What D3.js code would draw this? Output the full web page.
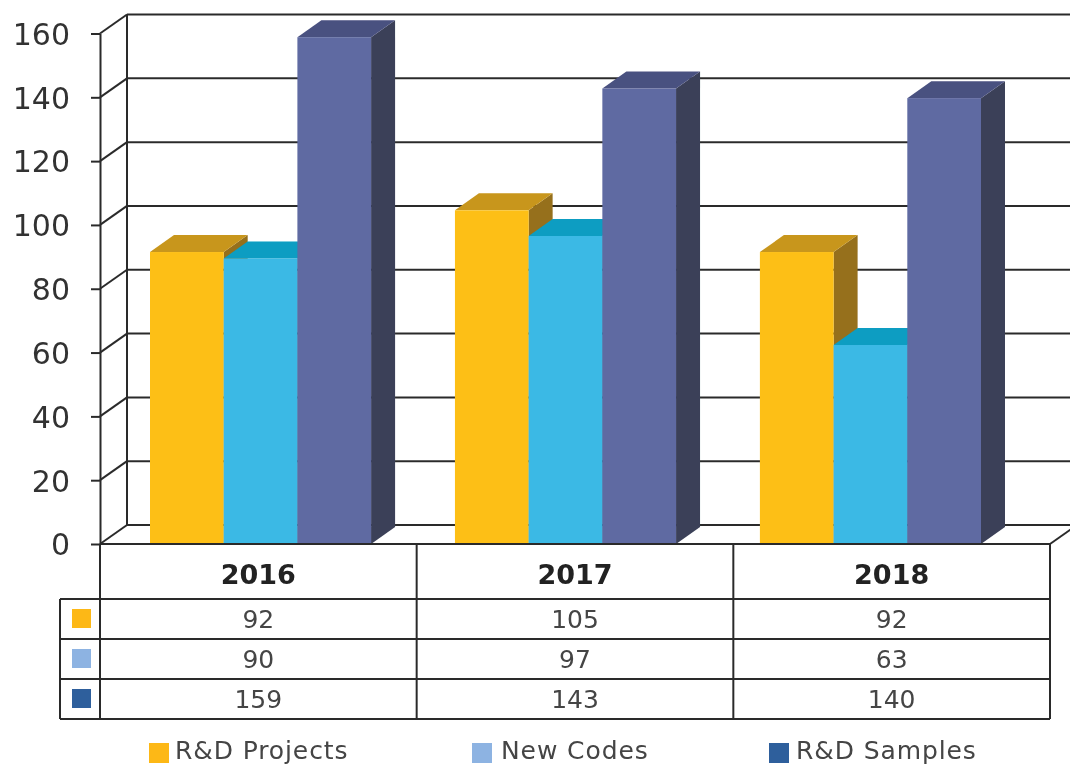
<!DOCTYPE html>
<html>
<head>
<meta charset="utf-8">
<script src="https://cdn.jsdelivr.net/npm/d3@7"></script>
<style>
html, body { margin: 0; padding: 0; background: #fff; overflow: hidden; }
text { font-family: "DejaVu Sans", sans-serif; fill: #333; }
</style>
</head>
<body>
<div id="graph"></div>
<script>
var years = ["2016", "2017", "2018"];
var seriesNames = ["R&D Projects", "New Codes", "R&D Samples"];
var projects = [92, 105, 92];
var codes = [90, 97, 63];
var samples = [159, 143, 140];
var yTicks = [0, 20, 40, 60, 80, 100, 120, 140, 160];

var series = [projects, codes, samples];
var faceColors = ["#fdbf14", "#3bb9e5", "#5f6aa2"];
var topColors = ["#c8961c", "#0b9dc2", "#4a5180"];
var sideColors = ["#96701c", "#0a85a8", "#3b4058"];
var keyColors = ["#fdb813", "#8db3e2", "#2f5f9c"];

var w = 1070, h = 766;
var line = "#2c2c2c";
var lineWidth = 2;

var svg = d3.select("div#graph").append("svg")
	.attr("width", w)
	.attr("height", h)
	.style("display", "block");

// the image is a soft upscaled picture, so everything gets a light blur
svg.append("defs").append("filter")
	.attr("id", "soft")
	.append("feGaussianBlur")
	.attr("stdDeviation", 0.45);
var g = svg.append("g").attr("filter", "url(#soft)");

var y = d3.scaleLinear().domain([0, 160]).range([544, 33.5]);
// bar tops sit a little off the axis ticks in the 3d projection
var yBars = d3.scaleLinear().domain([0, 160]).range([547, 34]);
var xTable = d3.scaleBand().domain(years).range([100, 1050]);
// the bars do not sit in the middle of the table columns, they have their own step
var xBars = d3.scaleBand().domain(years).range([150, 981]).paddingInner(0.275);
var xSeries = d3.scaleBand().domain(d3.range(3)).range([0, xBars.bandwidth()]);

// depth of the box and of the bars
var wallX = 27, wallY = -19;
var barX = 24, barY = -17;

function rule(x1, y1, x2, y2) {
	g.append("line")
		.attr("x1", x1).attr("y1", y1)
		.attr("x2", x2).attr("y2", y2)
		.attr("stroke", line).attr("stroke-width", lineWidth);
}

// back wall grid, slanted side wall lines
yTicks.forEach(function(t) {
	rule(100 + wallX, y(t) + wallY, w + 10, y(t) + wallY);
	rule(100, y(t), 100 + wallX, y(t) + wallY);
});
rule(100 + wallX, y(0) + wallY, 100 + wallX, y(160) + wallY);
rule(1050, y(0), 1050 + wallX, y(0) + wallY);

// y axis
var axis = g.append("g")
	.attr("transform", "translate(100,0)")
	.call(d3.axisLeft(y).tickValues(yTicks).tickSize(9).tickSizeOuter(0).tickPadding(21));
axis.selectAll("line, path").attr("stroke", line).attr("stroke-width", lineWidth);
axis.selectAll("text").style("font-size", "30px").attr("dy", "0.36em")
	.style("font-family", "'DejaVu Sans', sans-serif").style("fill", "#333");

// bars, left to right so each one covers the side of the one before
years.forEach(function(year, i) {
	series.forEach(function(values, s) {
		var x0 = xBars(year) + xSeries(s);
		var x1 = x0 + xSeries.bandwidth();
		var top = yBars(values[i]);
		var base = y(0);
		g.append("polygon")
			.attr("points", [[x1, top], [x1 + barX, top + barY], [x1 + barX, base + barY], [x1, base]].join(" "))
			.attr("fill", sideColors[s]);
		g.append("polygon")
			.attr("points", [[x0, top], [x0 + barX, top + barY], [x1 + barX, top + barY], [x1, top]].join(" "))
			.attr("fill", topColors[s]);
		g.append("rect")
			.attr("x", x0).attr("y", top)
			.attr("width", xSeries.bandwidth()).attr("height", base - top)
			.attr("fill", faceColors[s]);
	});
});

// data table under the chart
var rowY = [544, 599, 639, 679, 719];
rowY.forEach(function(ry, r) {
	rule(r == 0 ? 100 : 60, ry, 1050, ry);
});
[100, xTable(years[1]), xTable(years[2]), 1050].forEach(function(x) {
	rule(x, 544, x, 719);
});
rule(60, 599, 60, 719);

years.forEach(function(year, i) {
	var cx = xTable(year) + xTable.bandwidth() / 2;
	g.append("text")
		.attr("x", cx).attr("y", 584)
		.attr("text-anchor", "middle")
		.style("font-size", "27px").style("font-weight", "bold").style("fill", "#222")
		.text(year);
	series.forEach(function(values, s) {
		g.append("text")
			.attr("x", cx).attr("y", rowY[s + 1] + 29)
			.attr("text-anchor", "middle")
			.style("font-size", "25px").style("fill", "#444")
			.text(values[i]);
	});
});

series.forEach(function(values, s) {
	g.append("rect")
		.attr("x", 72).attr("y", rowY[s + 1] + 10)
		.attr("width", 19).attr("height", 19)
		.attr("fill", keyColors[s]);
});

// legend
var legendX = [149, 472, 769];
var legendTextX = [175, 501, 796];
seriesNames.forEach(function(name, s) {
	g.append("rect")
		.attr("x", legendX[s]).attr("y", 743)
		.attr("width", 20).attr("height", 20)
		.attr("fill", keyColors[s]);
	g.append("text")
		.attr("x", legendTextX[s]).attr("y", 759)
		.style("font-size", "25px").style("letter-spacing", "0.9px").style("fill", "#444")
		.text(name);
});
</script>
</body>
</html>
